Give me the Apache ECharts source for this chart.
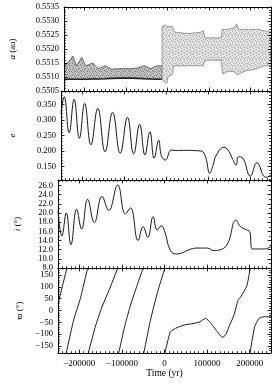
<!DOCTYPE html>
<html><head><meta charset="utf-8">
<script src="https://cdn.jsdelivr.net/npm/echarts@6/dist/echarts.min.js"></script>
<style>html,body{margin:0;padding:0;background:#fff}#c{width:274px;height:384px}</style>
</head><body><div id="c"></div>
<script>
// ---- data ----
const xMin = -250000, xMax = 250000;
const xTicks = [-200000, -100000, 0, 100000, 200000];
const aTicks = [0.5505, 0.5510, 0.5515, 0.5520, 0.5525, 0.5530, 0.5535];
const eTicks = [0.150, 0.200, 0.250, 0.300, 0.350];
const iTicks = [8, 10, 12, 14, 16, 18, 20, 22, 24, 26];
const wTicks = [-150, -100, -50, 0, 50, 100, 150];

// semi-major axis: envelope of the librating band
const aLeftT    = [-250000,-240800,-229000,-219600,-207100,-197600,-180400,-167800,-150600,-134900,-111400,-87800,-72200,-56500,-40800,-25100,-14000];
const aLeftLow  = [0.55092,0.55092,0.55092,0.55092,0.55092,0.55092,0.55093,0.55093,0.55094,0.55095,0.55096,0.55096,0.55095,0.55094,0.55093,0.55092,0.55092];
const aLeftHigh = [0.5514,0.5515,0.55175,0.5514,0.5517,0.5514,0.5515,0.5513,0.5514,0.55128,0.5513,0.5513,0.55132,0.5514,0.5513,0.5514,0.5514];
const aRightT    = [-13000,-5000,-1000,1000,12000,15000,18000,50000,80000,87000,90000,110000,130000,132000,134000,145000,160000,167000,172000,185000,200000,218000,234000,250000];
const aRightLow  = [0.5509,0.5508,0.5508,0.5510,0.5511,0.5514,0.5514,0.5514,0.5514,0.5514,0.5516,0.5516,0.5516,0.5512,0.5511,0.5512,0.5512,0.5511,0.5511,0.5512,0.55125,0.5513,0.5514,0.5514];
const aRightHigh = [0.5528,0.55285,0.5528,0.5528,0.5528,0.5527,0.5526,0.55255,0.5526,0.55265,0.5524,0.5524,0.5524,0.5527,0.5527,0.5527,0.55275,0.5529,0.5527,0.5527,0.5527,0.5527,0.55265,0.5526];

// eccentricity
const eT = [-250000,-242400,-230600,-218800,-206300,-193700,-178800,-162400,-145100,-127100,-109000,-91800,-76900,-62700,-50200,-38400,-28200,-17300,-11000,-1600,12500,22000,50000,76900,84700,94100,104300,112000,120000,138000,147500,158000,167000,172500,182700,200800,216500,237600,250000];
const eV = [0.321,0.374,0.259,0.366,0.241,0.353,0.220,0.337,0.198,0.324,0.193,0.308,0.191,0.286,0.188,0.262,0.177,0.235,0.185,0.1715,0.2035,0.202,0.2025,0.201,0.200,0.182,0.129,0.155,0.1875,0.212,0.2035,0.177,0.155,0.182,0.178,0.120,0.163,0.116,0.123];

// inclination
const iT = [-250000,-240800,-230600,-219600,-206300,-194500,-180400,-164700,-146700,-131000,-109800,-91800,-80000,-62000,-50200,-39200,-26700,-17300,-7800,0,14100,28200,61200,76900,100400,116100,127800,147500,167800,178800,198400,200800,206300,218000,233700,250000];
const iV = [20.5,15.0,20.0,13.1,20.8,16.5,23.0,17.9,23.6,20.6,26.1,19.8,21.1,14.0,17.0,14.7,19.2,16.3,17.2,16.1,11.8,11.05,12.1,12.35,12.35,11.8,11.9,13.2,18.45,17.0,16.1,15.8,12.15,12.15,12.15,12.65];

// longitude of perihelion (wrapped, null = break)
const wT = [-250000,-229000,null,-230600,-213300,-197600,-180400,null,-178800,-162400,-146700,-127100,-109800,null,-107500,-91800,-76100,-50200,null,-48600,-32900,-17300,800,null,800,10200,14100,25900,45500,69000,83100,96500,112200,123900,135700,143500,151400,163100,172500,178800,192900,200800,202400,null,200800,211800,222000,233700,250000];
const wV = [29,180,null,-180,-40.7,50.5,180,null,-180,-68.7,15.4,99.5,180,null,-180,-54.7,43.5,180,null,-180,-40.7,71.5,180,null,-180,-110.8,-89.7,-75.7,-61.7,-54.7,-47.7,-33.6,-61.7,-89.7,-113.5,-103.7,-68.7,-19.6,43.5,57.5,102.3,172.4,180,null,-180,-68.7,-33.6,-26.6,-26.6];

// ---- layout / style ----
const FONT = 'Liberation Serif';
const gridTops = [7, 91, 180, 268];
const gridHeights = [84, 89, 88, 85];
const yRanges = [[0.5505, 0.5535], [0.1075, 0.3925], [8, 27.2], [-180, 180]];
const yMajor = [aTicks, eTicks, iTicks, wTicks];
const yMinorStep = [0.0001, 0.01, 1, 10];
const yFmt = [v => v.toFixed(4), v => v.toFixed(3), v => v.toFixed(1), v => String(v).replace('-', '\u2212')];
const yNames = ['{it|a} (au)', '{it|e}', '{it|i} (°)', 'ϖ (°)'];
const yNameGaps = [47, 44, 36, 33];

function range(a, b, s) { const r = []; const n = Math.round((b - a) / s); for (let k = 0; k <= n; k++) r.push(+(a + k * s).toFixed(6)); return r; }
const xMinor = range(xMin, xMax, 10000).filter(v => v > xMin && v < xMax);

function makePattern(bg, dark, seed) {
  const c = document.createElement('canvas'); c.width = 6; c.height = 6;
  const x = c.getContext('2d'); x.fillStyle = bg; x.fillRect(0, 0, 6, 6);
  x.fillStyle = dark;
  const pts = [[0,0],[3,1],[1,2],[4,3],[2,4],[5,5],[0,3],[3,5]];
  pts.forEach(([a, b]) => x.fillRect((a + seed) % 6, b, 1, 1));
  return { image: c, repeat: 'repeat' };
}
const patLeft = makePattern('#c2c2c2', '#7a7a7a', 0);
const patRight = makePattern('#e4e4e4', '#a8a8a8', 1);

const grids = [], xAxes = [], yAxes = [], series = [];
const tick = (len) => ({ show: true, inside: true, length: len, lineStyle: { color: '#000', width: 0.8 } });
const noLine = { show: false, onZero: false };
const boxLine = { show: true, onZero: false, lineStyle: { color: '#000', width: 1 } };

for (let g = 0; g < 4; g++) {
  grids.push({ left: 58, right: 3, top: gridTops[g], height: gridHeights[g], show: false, containLabel: false });
  const [ymin, ymax] = yRanges[g];
  const minorY = range(Math.ceil(ymin / yMinorStep[g] - 1e-9) * yMinorStep[g], ymax, yMinorStep[g]).filter(v => v > ymin + 1e-9 && v < ymax - 1e-9);
  for (const pos of ['bottom', 'top']) {
    const lab = (pos === 'bottom' && g === 3);
    xAxes.push({
      type: 'value', gridIndex: g, min: xMin, max: xMax, position: pos, z: 10,
      axisLine: boxLine, splitLine: { show: false },
      axisTick: Object.assign(tick(3.5), { customValues: xTicks }),
      axisLabel: lab ? { show: true, customValues: xTicks, fontFamily: FONT, fontSize: 9, color: '#000', margin: 6, formatter: v => String(v).replace('-', '\u2212') } : { show: false },
      name: lab ? 'Time (yr)' : '', nameLocation: 'middle', nameGap: 15,
      nameTextStyle: { fontFamily: FONT, fontSize: 9.5, color: '#000' }
    });
    xAxes.push({
      type: 'value', gridIndex: g, min: xMin, max: xMax, position: pos, z: 10,
      axisLine: noLine, splitLine: { show: false },
      axisTick: Object.assign(tick(1.8), { customValues: xMinor }), axisLabel: { show: false }
    });
  }
  for (const pos of ['left', 'right']) {
    const lab = pos === 'left';
    yAxes.push({
      type: 'value', gridIndex: g, min: ymin, max: ymax, position: pos, z: 10,
      axisLine: boxLine, splitLine: { show: false },
      axisTick: Object.assign(tick(3.5), { customValues: yMajor[g] }),
      axisLabel: lab ? { show: true, customValues: yMajor[g], fontFamily: FONT, fontSize: 8.5, color: '#000', margin: 5, formatter: yFmt[g] } : { show: false },
      name: lab ? yNames[g] : '', nameLocation: 'middle', nameRotate: 90, nameGap: yNameGaps[g],
      nameTextStyle: { fontFamily: FONT, fontSize: 9, color: '#000', rich: { it: { fontFamily: FONT, fontSize: 9, fontStyle: 'italic', color: '#000' } } }
    });
    yAxes.push({
      type: 'value', gridIndex: g, min: ymin, max: ymax, position: pos, z: 10,
      axisLine: noLine, splitLine: { show: false },
      axisTick: Object.assign(tick(1.8), { customValues: minorY }), axisLabel: { show: false }
    });
  }
}

const zip = (xs, ys) => xs.map((x, k) => [x, ys[k]]);
const base = (g) => ({ type: 'line', xAxisIndex: g * 4, yAxisIndex: g * 4, symbol: 'none', animation: false, silent: true });

function band(T, lo, hi, fill, stroke) {
  return {
    type: 'custom', xAxisIndex: 0, yAxisIndex: 0, silent: true, animation: false, clip: true,
    data: T.map((t, k) => [t, lo[k], hi[k]]), encode: { x: 0, y: [1, 2] },
    renderItem: (params, api) => {
      if (params.dataIndex !== 0) return null;
      const n = T.length, pts = [];
      for (let k = 0; k < n; k++) pts.push(api.coord([api.value(0, k), api.value(2, k)]));
      for (let k = n - 1; k >= 0; k--) pts.push(api.coord([api.value(0, k), api.value(1, k)]));
      return { type: 'polygon', shape: { points: pts }, style: { fill: fill, stroke: stroke, lineWidth: 0.7 } };
    }
  };
}

// panel 1: bands
series.push(band(aLeftT, aLeftLow, aLeftHigh, patLeft, '#777'));
series.push(band(aRightT, aRightLow, aRightHigh, patRight, '#7a7a7a'));
series.push(Object.assign(base(0), { data: zip(aLeftT, aLeftLow), lineStyle: { color: '#222', width: 1.6 } }));
series.push(Object.assign(base(0), { data: zip(aLeftT, aLeftHigh), lineStyle: { color: '#666', width: 0.6 } }));
// panel 2
series.push(Object.assign(base(1), { data: zip(eT, eV), smooth: 0.45, lineStyle: { color: '#000', width: 0.9 } }));
// panel 3
series.push(Object.assign(base(2), { data: zip(iT, iV), smooth: 0.45, lineStyle: { color: '#000', width: 0.9 } }));
// panel 4
series.push(Object.assign(base(3), { data: wT.map((t, k) => t === null ? [null, null] : [t, wV[k]]), connectNulls: false, smooth: 0.2, lineStyle: { color: '#000', width: 0.9 } }));

const chart = echarts.init(document.getElementById('c'), null, { renderer: 'canvas' });
chart.setOption({
  backgroundColor: '#fff', animation: false,
  grid: grids, xAxis: xAxes, yAxis: yAxes, series
});
</script></body></html>
